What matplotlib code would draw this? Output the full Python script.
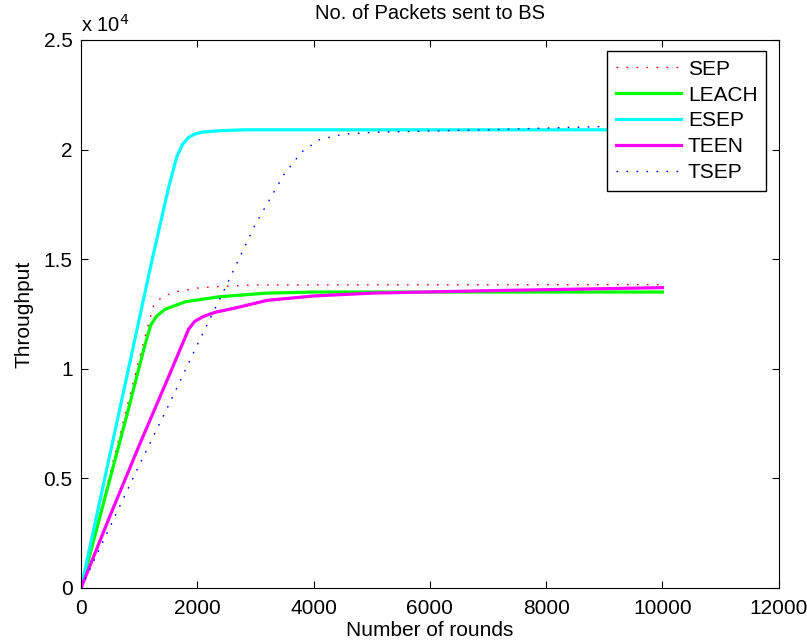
import matplotlib
matplotlib.use("Agg")
import matplotlib.pyplot as plt
from matplotlib.ticker import FuncFormatter

plt.rcParams['font.family'] = ['Liberation Sans', 'DejaVu Sans']

# Data (rounds, packets)
sep_x = [0, 400, 800, 1100, 1250, 1400, 1650, 2000, 2400, 3000, 10000]
sep_y = [0, 4200, 8350, 11450, 12900, 13300, 13520, 13680, 13760, 13820, 13840]

leach_x = [0, 400, 800, 1100, 1200, 1300, 1450, 1800, 2400, 3200, 4000, 10000]
leach_y = [0, 4000, 8000, 11100, 12000, 12400, 12720, 13060, 13290, 13450, 13500, 13500]

esep_x = [0, 400, 800, 1200, 1500, 1650, 1750, 1850, 1950, 2100, 2400, 2800, 10000]
esep_y = [0, 4900, 9800, 14700, 18200, 19700, 20250, 20550, 20700, 20800, 20860, 20900, 20900]

teen_x = [0, 500, 1000, 1500, 1850, 1950, 2100, 2300, 2700, 3200, 4000, 5000, 7000, 10000]
teen_y = [0, 3300, 6500, 9600, 11800, 12150, 12380, 12570, 12800, 13120, 13320, 13450, 13560, 13700]

tsep_x = [0, 500, 1000, 1500, 2000, 2500, 3000, 3500, 3800, 4100, 4500, 5000, 6000, 7000, 8000, 9000, 10000]
tsep_y = [0, 2800, 5600, 8300, 11100, 13800, 16600, 18900, 19900, 20450, 20700, 20780, 20850, 20900, 20980, 21050, 21100]

fig = plt.figure(figsize=(8.07, 6.44), dpi=100)
ax = fig.add_axes([0.1004, 0.087, 0.8646, 0.851])

ax.plot(sep_x, sep_y, color='#ff0000', lw=1.0, linestyle=(0, (1.2, 6)), label='SEP')
ax.plot(leach_x, leach_y, color='#00ff00', lw=2.3, label='LEACH')
ax.plot(esep_x, esep_y, color='#00ffff', lw=2.3, label='ESEP')
ax.plot(teen_x, teen_y, color='#ff00ff', lw=2.3, label='TEEN')
ax.plot(tsep_x, tsep_y, color='#0000ff', lw=1.0, linestyle=(0, (1.2, 6)), label='TSEP')

ax.set_xlim(0, 12000)
ax.set_ylim(0, 25000)
ax.set_xticks([0, 2000, 4000, 6000, 8000, 10000, 12000])
ax.set_yticks([0, 5000, 10000, 15000, 20000, 25000])
ax.yaxis.set_major_formatter(FuncFormatter(lambda v, p: ('%g' % (v / 1e4))))
ax.tick_params(direction='in', top=True, right=True, labelsize=15, length=5, width=0.8)
ax.tick_params(axis='x', pad=8)
ax.tick_params(axis='y', pad=6)
for s in ax.spines.values():
    s.set_linewidth(0.8)

ax.set_title('No. of Packets sent to BS', fontsize=14.5, pad=15)
ax.set_xlabel('Number of rounds', fontsize=15, labelpad=2)
ax.set_ylabel('Throughput', fontsize=15, labelpad=7)
ax.text(0.0, 1.008, r'x 10$^{4}$', transform=ax.transAxes, fontsize=14.5, ha='left', va='bottom')

leg = ax.legend(loc='upper right', bbox_to_anchor=(0.982, 0.98), fontsize=15,
                frameon=True, fancybox=False, edgecolor='black', framealpha=1,
                handlelength=3.1, borderpad=0.42, labelspacing=0.33, handletextpad=0.35,
                borderaxespad=0)
leg.get_frame().set_linewidth(1.0)

fig.savefig('out.png', dpi=100)
